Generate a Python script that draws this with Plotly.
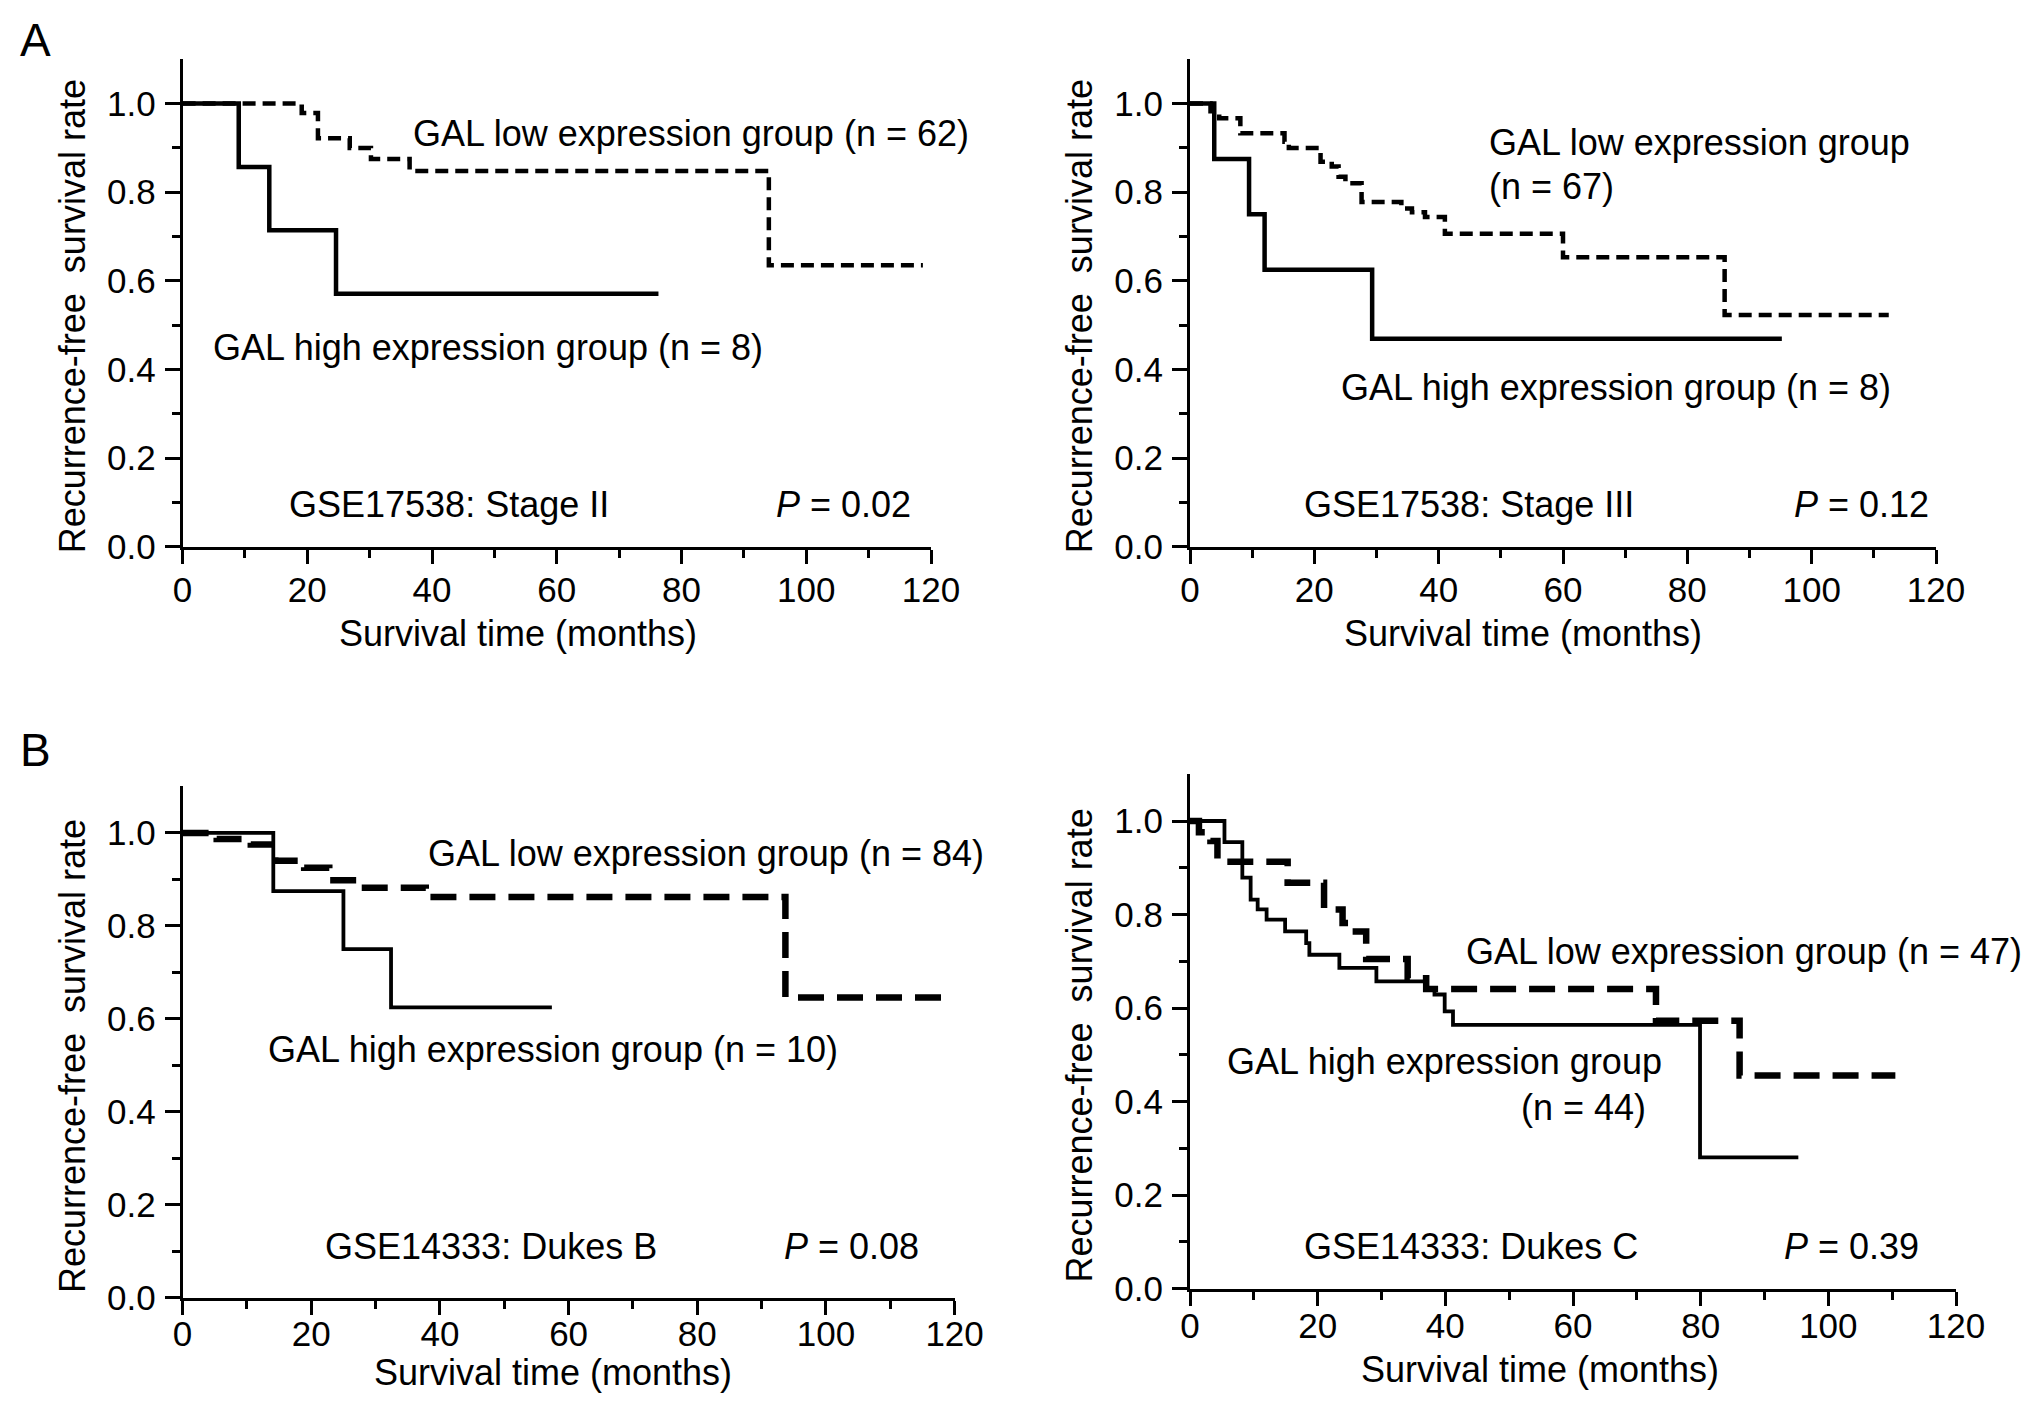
import plotly.graph_objects as go

# ---------------- data (months, survival rate) ----------------
# Panel A left: GSE17538 Stage II
a1_high_t = [0, 9.0, 13.9, 24.6]
a1_high_s = [1.0, 0.857, 0.714, 0.571]
a1_high_end = 76.3
a1_low_t = [0, 19.1, 21.7, 26.8, 30.2, 36.4, 94.0]
a1_low_s = [1.0, 0.979, 0.922, 0.900, 0.875, 0.848, 0.635]
a1_low_end = 118.7

# Panel A right: GSE17538 Stage III
a2_high_t = [0, 3.9, 9.5, 12.0, 29.3]
a2_high_s = [1.0, 0.875, 0.750, 0.625, 0.469]
a2_high_end = 95.2
a2_low_t = [0, 3.3, 4.7, 8.1, 15.2, 15.9, 21.0, 22.8, 23.9, 25.0, 27.6, 34.0, 35.7, 37.8, 41.0, 60.0, 86.0]
a2_low_s = [1.0, 0.983, 0.967, 0.933, 0.914, 0.900, 0.869, 0.858, 0.835, 0.820, 0.778, 0.763, 0.755, 0.744, 0.706, 0.653, 0.523]
a2_low_end = 112.4

# Panel B left: GSE14333 Dukes B
b1_high_t = [0, 14.1, 25.0, 32.4]
b1_high_s = [1.0, 0.875, 0.750, 0.625]
b1_high_end = 57.4
b1_low_t = [0, 5.3, 10.6, 14.4, 18.9, 22.8, 27.8, 37.8, 93.7]
b1_low_s = [1.0, 0.987, 0.975, 0.940, 0.925, 0.898, 0.882, 0.862, 0.646]
b1_low_end = 118.4

# Panel B right: GSE14333 Dukes C
b2_high_t = [0, 5.4, 8.2, 9.5, 10.6, 12.0, 14.9, 18.2, 18.7, 23.4, 29.2, 37.0, 38.3, 39.9, 41.2, 79.9]
b2_high_s = [1.0, 0.955, 0.879, 0.832, 0.811, 0.789, 0.764, 0.739, 0.714, 0.686, 0.657, 0.643, 0.629, 0.593, 0.564, 0.281]
b2_high_end = 95.3
b2_low_t = [0, 1.4, 3.2, 4.3, 15.3, 21.0, 23.9, 25.0, 27.6, 34.1, 37.0, 73.0, 86.1]
b2_low_s = [1.0, 0.976, 0.957, 0.913, 0.868, 0.811, 0.782, 0.764, 0.705, 0.664, 0.641, 0.573, 0.456]
b2_low_end = 110.5

x_ticks = [0, 20, 40, 60, 80, 100, 120]
y_ticks = [0.0, 0.2, 0.4, 0.6, 0.8, 1.0]
x_minor = [10, 30, 50, 70, 90, 110]
y_minor = [0.1, 0.3, 0.5, 0.7, 0.9]

x_title = "Survival time (months)"
y_title = "Recurrence-free\u00a0 survival rate"

W, H = 2031, 1402
FONT = "Liberation Sans, Arial, sans-serif"
FS = 36
TFS = 35

fig = go.Figure()


def steps(t, s, end):
    return list(t) + [end], list(s) + [s[-1]]


def add_curve(t, s, end, ax, dash, width):
    x, y = steps(t, s, end)
    fig.add_trace(go.Scatter(
        x=x, y=y, mode="lines", line=dict(shape="hv", color="black", width=width, dash=dash),
        xaxis="x" + ax, yaxis="y" + ax, showlegend=False, hoverinfo="skip"))


panels = [
    ("", a1_high_t, a1_high_s, a1_high_end, a1_low_t, a1_low_s, a1_low_end, "13px,7px", 4.5, 4.5),
    ("2", a2_high_t, a2_high_s, a2_high_end, a2_low_t, a2_low_s, a2_low_end, "13px,7px", 4.5, 4.5),
    ("3", b1_high_t, b1_high_s, b1_high_end, b1_low_t, b1_low_s, b1_low_end, "26px,13px", 6.5, 3.8),
    ("4", b2_high_t, b2_high_s, b2_high_end, b2_low_t, b2_low_s, b2_low_end, "26px,13px", 6.5, 3.8),
]
for ax, ht, hs, he, lt, ls, le, dash, lw, hw in panels:
    add_curve(lt, ls, le, ax, dash, lw)
    add_curve(ht, hs, he, ax, "solid", hw)

# plot-area geometry in pixels: (x0 px, x120 px, y0 px, y1.0 px, x-label standoff)
geom = {
    "": (182.6, 931.0, 546.6, 103.6, -4),
    "2": (1190.0, 1936.0, 546.6, 103.6, -4),
    "3": (182.6, 954.6, 1297.9, 832.9, -11),
    "4": (1190.0, 1956.0, 1288.7, 821.0, -10),
}
YTOP = 1.1

layout = dict(
    width=W, height=H, margin=dict(l=0, r=0, t=0, b=0),
    paper_bgcolor="white", plot_bgcolor="white",
    font=dict(family=FONT, size=FS, color="black"),
)

for ax, (x0, x1, y0, y1, xstand) in geom.items():
    ytop_px = y0 - YTOP * (y0 - y1)
    xd = [x0 / W, x1 / W]
    yd = [1 - y0 / H, 1 - ytop_px / H]
    layout["xaxis" + ax] = dict(
        domain=xd, anchor="y" + ax, range=[0, 120], tickvals=x_ticks,
        ticks="outside", ticklen=14, tickwidth=2.5, tickcolor="black",
        showline=True, linecolor="black", linewidth=3, showgrid=False, zeroline=False,
        minor=dict(tickvals=x_minor, ticks="outside", ticklen=8, tickwidth=2.5, tickcolor="black", showgrid=False),
        tickfont=dict(size=TFS), ticklabelstandoff=xstand,
        automargin=False, fixedrange=True,
    )
    layout["yaxis" + ax] = dict(
        domain=yd, anchor="x" + ax, range=[0, YTOP], tickvals=y_ticks, tickformat=".1f",
        ticks="outside", ticklen=15, tickwidth=2.5, tickcolor="black",
        showline=True, linecolor="black", linewidth=3, showgrid=False, zeroline=False,
        minor=dict(tickvals=y_minor, ticks="outside", ticklen=8, tickwidth=2.5, tickcolor="black", showgrid=False),
        tickfont=dict(size=TFS), ticklabelstandoff=2,
        automargin=False, fixedrange=True,
    )

fig.update_layout(**layout)

# ---------------- axis titles (pixel centres for x titles, data-centred y titles) ----------------
x_title_pos = [(517.5, 633.4), (1522.6, 633.4), (553.0, 1372.0), (1540.0, 1369.0)]
for px, py in x_title_pos:
    fig.add_annotation(x=px / W, y=1 - py / H, xref="paper", yref="paper", text=x_title,
                       showarrow=False, xanchor="center", yanchor="middle",
                       font=dict(size=FS, family=FONT))

y_title_x = {"": 72, "2": 1079, "3": 72, "4": 1079}
for ax, px in y_title_x.items():
    fig.add_annotation(x=px / W, y=0.52, xref="paper", yref="y" + ax, text=y_title,
                       textangle=-90, showarrow=False, xanchor="center", yanchor="middle",
                       font=dict(size=36, family=FONT))

# ---------------- annotations ----------------
ann = [
    # ax, x, y, text, xanchor
    ("", 36.7, 0.933, "GAL low expression group (n = 62)", "left"),
    ("", 4.6, 0.45, "GAL high expression group (n = 8)", "left"),
    ("", 16.8, 0.096, "GSE17538: Stage II", "left"),
    ("", 94.9, 0.096, "<i>P</i> = 0.02", "left"),
    ("2", 47.8, 0.912, "GAL low expression group", "left"),
    ("2", 47.8, 0.813, "(n = 67)", "left"),
    ("2", 24.0, 0.36, "GAL high expression group (n = 8)", "left"),
    ("2", 18.0, 0.096, "GSE17538: Stage III", "left"),
    ("2", 96.8, 0.096, "<i>P</i> = 0.12", "left"),
    ("3", 37.8, 0.955, "GAL low expression group (n = 84)", "left"),
    ("3", 12.9, 0.535, "GAL high expression group (n = 10)", "left"),
    ("3", 21.9, 0.111, "GSE14333: Dukes B", "left"),
    ("3", 93.2, 0.111, "<i>P</i> = 0.08", "left"),
    ("4", 43.0, 0.72, "GAL low expression group (n = 47)", "left"),
    ("4", 5.5, 0.485, "GAL high expression group", "left"),
    ("4", 71.7, 0.388, "(n = 44)", "right"),
    ("4", 17.5, 0.091, "GSE14333: Dukes C", "left"),
    ("4", 92.8, 0.091, "<i>P</i> = 0.39", "left"),
]
for ax, x, y, text, xa in ann:
    fig.add_annotation(x=x, y=y, xref="x" + ax, yref="y" + ax, text=text, showarrow=False,
                       xanchor=xa, yanchor="middle", font=dict(size=FS, family=FONT))

# panel letters
fig.add_annotation(x=18 / W, y=1 - 40 / H, xref="paper", yref="paper", text="A", showarrow=False,
                   xanchor="left", yanchor="middle", font=dict(size=46, family=FONT))
fig.add_annotation(x=18 / W, y=1 - 750 / H, xref="paper", yref="paper", text="B", showarrow=False,
                   xanchor="left", yanchor="middle", font=dict(size=46, family=FONT))

fig.write_html("out.html", config={"displayModeBar": False},
               post_script="document.body.style.margin='0px';")
